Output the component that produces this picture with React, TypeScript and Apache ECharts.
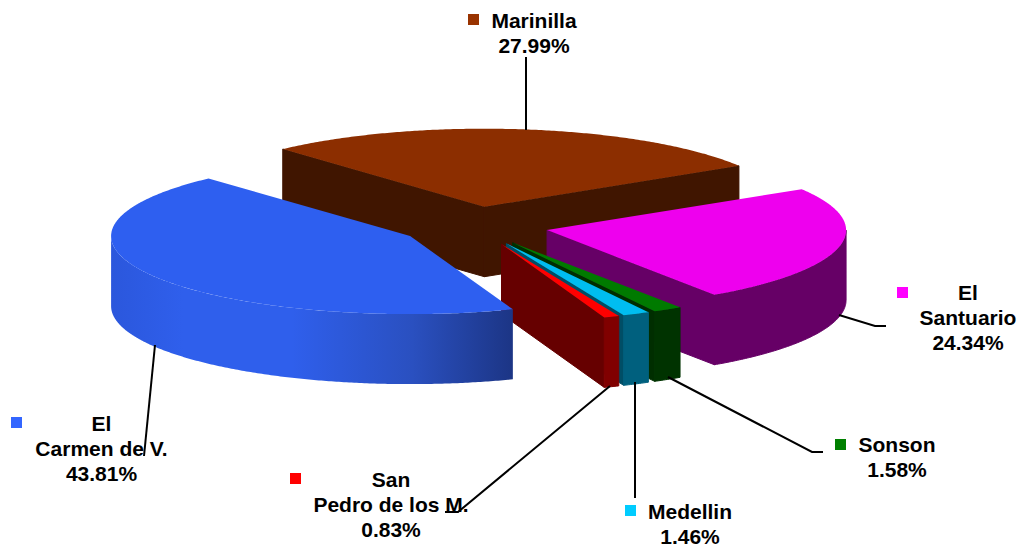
import React, { useEffect, useRef } from "react";
import * as echarts from "echarts";

// Data (clockwise from the first slice, back to front)
const categories = ["Marinilla", "El\nSantuario", "Sonson", "Medellin", "San\nPedro de los M.", "El\nCarmen de V."];
const shares = [27.99, 24.34, 1.58, 1.46, 0.83, 43.81];

// Styles
const topColors = ["#8C2E00", "#EE00EE", "#007A00", "#00BDF0", "#FF0000", "#2E5FF0"];
const wallColors = ["#401500", "#660066", "#003300", "#00607E", "#800000", "#2E5FF0"];
const sideColors = ["#401500", "#660066", "#002E00", "#004E66", "#660000", "#1E3A8A"];
const markerColors = ["#993300", "#FF00FF", "#008000", "#00CCFF", "#FF0000", "#3366FF"];

// Pie geometry
const CX = 474, CY = 226, RX = 299, RY = 78, DEPTH = 70, EXPLODE = 0.25, START = -42.4;
const total = shares.reduce((a, b) => a + b, 0);

// Label layout: text centre, marker left/top
const labelPos = [
  { x: 534, y: 33, mx: 468, my: 14 },
  { x: 968, y: 317, mx: 897, my: 287 },
  { x: 897, y: 457, mx: 835, my: 439 },
  { x: 690, y: 524, mx: 625, my: 505 },
  { x: 391, y: 504, mx: 290, my: 473 },
  { x: 101.5, y: 448.5, mx: 11, my: 417 },
];
const leaderLines = [
  [[526, 57], [526, 130]],
  [[839, 315], [875, 326], [886, 326]],
  [[668, 377], [812, 452], [823, 452]],
  [[635, 382], [635, 498]],
  [[610, 386], [458, 512], [445, 512]],
  [[155, 345], [144, 456]],
];

const rad = (d: number) => (d * Math.PI) / 180;

function sliceAngles(i: number) {
  let a = START;
  for (let k = 0; k < i; k++) a += (shares[k] / total) * 360;
  return [a, a + (shares[i] / total) * 360];
}

function renderSlice(params: any) {
  const i = params.dataIndex;
  const [a0, a1] = sliceAngles(i);
  const mid = (a0 + a1) / 2;
  const ox = CX + EXPLODE * RX * Math.sin(rad(mid));
  const oy = CY - EXPLODE * RY * Math.cos(rad(mid));
  const pt = (deg: number, dz = 0) => [ox + RX * Math.sin(rad(deg)), oy - RY * Math.cos(rad(deg)) + dz];
  const children: any[] = [];

  const arc = (from: number, to: number, dz = 0) => {
    const pts: number[][] = [];
    const n = Math.max(2, Math.ceil(Math.abs(to - from) * 2));
    for (let k = 0; k <= n; k++) pts.push(pt(from + ((to - from) * k) / n, dz));
    return pts;
  };
  const radialWall = (deg: number) => ({
    type: "polygon",
    shape: { points: [[ox, oy], pt(deg), pt(deg, DEPTH), [ox, oy + DEPTH]] },
    style: { fill: sideColors[i], stroke: sideColors[i], lineWidth: 1 },
  });

  // Radial walls that face the viewer
  const norm = (d: number) => ((d % 360) + 360) % 360;
  if (norm(a0) > 180) children.push(radialWall(a0));
  if (norm(a1) > 0 && norm(a1) < 180) children.push(radialWall(a1));

  // Outer wall, front half only
  const w0 = Math.max(a0, 90);
  const w1 = Math.min(a1, 270);
  if (w1 > w0) {
    const isGradient = i === 5;
    const fill = isGradient
      ? new echarts.graphic.LinearGradient(0, 0, 1, 0, [
          { offset: 0, color: "#2B57DC" },
          { offset: 0.18, color: "#2F5FEC" },
          { offset: 0.45, color: "#2F5FEC" },
          { offset: 0.75, color: "#2A50C0" },
          { offset: 1, color: "#1C3585" },
        ])
      : wallColors[i];
    children.push({
      type: "polygon",
      shape: { points: [...arc(w0, w1), ...arc(w1, w0, DEPTH)] },
      style: isGradient ? { fill } : { fill, stroke: fill, lineWidth: 1 },
    });
  }

  // Top face
  children.push({
    type: "polygon",
    shape: { points: [[ox, oy], ...arc(a0, a1)] },
    style: { fill: topColors[i] },
  });
  return { type: "group", children };
}

export default function App() {
  const ref = useRef<HTMLDivElement>(null);
  useEffect(() => {
    document.body.style.margin = "0";
    const chart = echarts.init(ref.current!, null, { renderer: "svg" });
    const graphics: any[] = [];
    categories.forEach((name, i) => {
      const p = labelPos[i];
      graphics.push({
        type: "rect",
        z: 10,
        shape: { x: p.mx, y: p.my, width: 11, height: 11 },
        style: { fill: markerColors[i] },
      });
      graphics.push({
        type: "text",
        z: 10,
        x: p.x,
        y: p.y,
        style: {
          text: `${name}\n${shares[i].toFixed(2)}%`,
          align: "center",
          verticalAlign: "middle",
          fill: "#000",
          font: 'bold 21px "Liberation Sans", Arial, sans-serif',
          lineHeight: 25,
        },
      });
      graphics.push({
        type: "polyline",
        z: 11,
        shape: { points: leaderLines[i] },
        style: { stroke: "#000", lineWidth: 2, fill: "none" },
      });
    });
    chart.setOption({
      animation: false,
      backgroundColor: "#fff",
      graphic: graphics,
      series: [
        {
          type: "custom",
          coordinateSystem: "none",
          silent: true,
          renderItem: renderSlice,
          data: shares.map((v, i) => ({ name: categories[i], value: [v] })),
        },
      ],
    });
    return () => chart.dispose();
  }, []);
  return <div ref={ref} style={{ width: 1022, height: 548 }} />;
}
